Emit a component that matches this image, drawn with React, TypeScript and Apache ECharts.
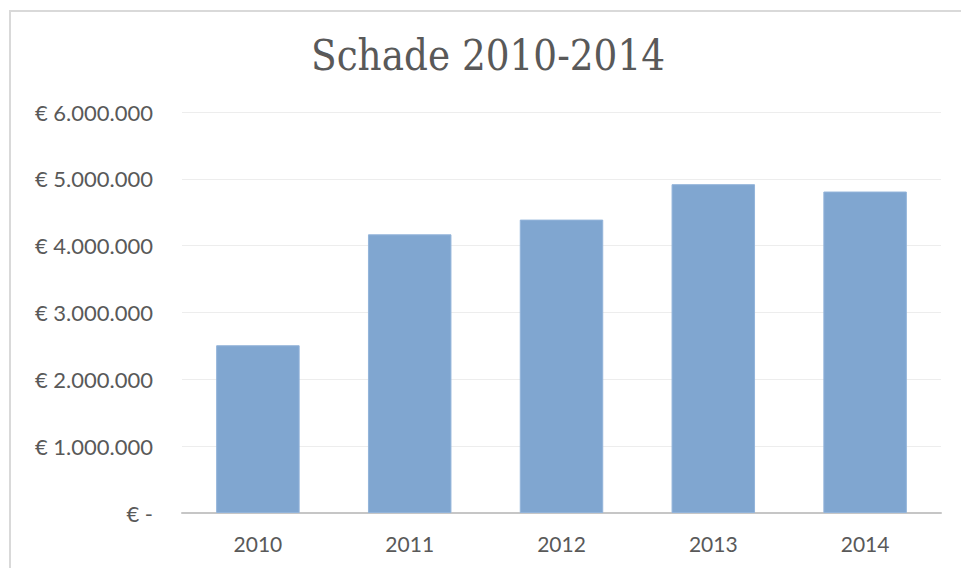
import React, { useEffect, useRef } from "react";
import * as echarts from "echarts";

const titleText = "Schade 2010-2014";
const categories = ["2010", "2011", "2012", "2013", "2014"];
const schade = [2510000, 4170000, 4390000, 4920000, 4810000];
const yTicks = [0, 1000000, 2000000, 3000000, 4000000, 5000000, 6000000];

const fmt = (v: number) =>
  v === 0 ? "€ -" : "€ " + String(v).replace(/\B(?=(\d{3})+(?!\d))/g, ".");

export default function App() {
  const ref = useRef<HTMLDivElement>(null);
  useEffect(() => {
    if (!ref.current) return;
    const chart = echarts.init(ref.current, undefined, { renderer: "svg" });
    chart.setOption({
      animation: false,
      backgroundColor: "#ffffff",
      graphic: [
        {
          type: "rect",
          shape: { x: 10, y: 11, width: 1000, height: 600 },
          style: { fill: "none", stroke: "#d9d9d9", lineWidth: 2 },
          silent: true,
          z: -1,
        },
        {
          type: "text",
          x: 488,
          y: 56,
          scaleX: 0.87,
          style: {
            text: titleText,
            fontFamily: "DejaVu Serif",
            fontSize: 43,
            fill: "#595959",
            align: "center",
            verticalAlign: "middle",
          },
        },
      ],
      grid: { left: 182, right: 20, top: 112, bottom: 55 },
      xAxis: {
        type: "category",
        data: categories,
        axisLine: { lineStyle: { color: "#c6c6c6", width: 2 } },
        axisTick: { show: false },
        axisLabel: {
          fontFamily: "Lato",
          fontSize: 21,
          color: "#595959",
          margin: 20,
        },
      },
      yAxis: {
        type: "value",
        min: yTicks[0],
        max: yTicks[yTicks.length - 1],
        interval: 1000000,
        axisLine: { show: false },
        axisTick: { show: false },
        splitLine: { lineStyle: { color: "#ededed", width: 1 } },
        axisLabel: {
          fontFamily: "Lato",
          fontSize: 22,
          color: "#595959",
          margin: 29,
          formatter: (v: number) => fmt(v),
        },
      },
      series: [
        {
          type: "bar",
          data: schade,
          barCategoryGap: "45%",
          itemStyle: {
            color: "#80a6d0",
            borderColor: "#93b4da",
            borderWidth: 1,
          },
        },
      ],
    });
    return () => chart.dispose();
  }, []);
  return (
    <div
      ref={ref}
      style={{ position: "fixed", left: 0, top: 0, width: 961, height: 568 }}
    />
  );
}
